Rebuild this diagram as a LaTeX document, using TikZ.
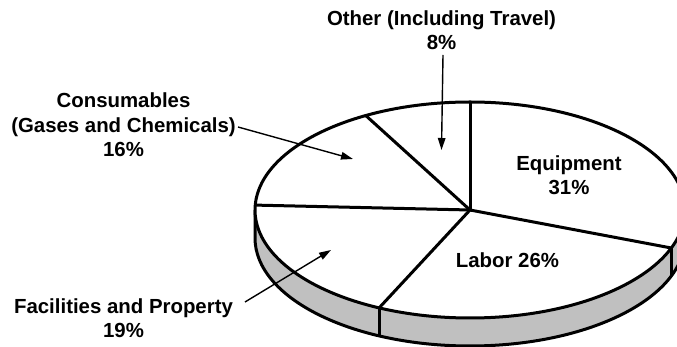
\documentclass[tikz,border=0pt]{standalone}
\usepackage{fontspec}
\setmainfont{Liberation Sans}
\usetikzlibrary{arrows.meta}
\definecolor{sidegray}{RGB}{192,192,192}
\begin{document}
\begin{tikzpicture}[x=1pt,y=1pt,
  lbl/.style={font=\fontsize{20.4}{24.5}\selectfont\bfseries, align=center, inner sep=0pt, anchor=base},
  edge/.style={line width=3pt, line join=round},
  pointer/.style={line width=1.4pt, -{Triangle[length=12pt,width=7.5pt]}}]
\useasboundingbox (0,0) rectangle (677,347);
\clip (0,0) rectangle (677,347);
\def\rx{215}\def\ry{108}\def\dep{28}
\coordinate (C) at (470,137);
\coordinate (L) at (255,137);
\foreach \n/\t in {a/90,b/-20.6,c/-115,d/177.4,e/119}
  \coordinate (p\n) at ({470+\rx*cos(\t)},{137+\ry*sin(\t)});
% side
\fill[sidegray] (L) arc[start angle=180,end angle=360,x radius=\rx,y radius=\ry]
  -- ++(0,-\dep) arc[start angle=360,end angle=180,x radius=\rx,y radius=\ry] -- cycle;
\draw[edge] (L) -- ++(0,-\dep) arc[start angle=180,end angle=360,x radius=\rx,y radius=\ry] -- ++(0,\dep);
\draw[edge] (pb) -- ++(0,-\dep);
\draw[edge] (pc) -- ++(0,-\dep);
% top
\draw[edge, fill=white] (C) ellipse[x radius=\rx,y radius=\ry];
\foreach \n in {a,b,c,d,e} \draw[edge] (C) -- (p\n);
% labels (base anchor = baseline of last line)
\node[lbl] (other) at (441.5,297) {Other (Including Travel)\\8\%};
\node[lbl] (cons) at (123.5,190) {Consumables\\(Gases and Chemicals)\\16\%};
\node[lbl] (fac) at (123.5,9) {Facilities and Property\\19\%};
\node[lbl] (equip) at (569,152) {Equipment\\31\%};
\node[lbl] (labor) at (507.5,79) {Labor 26\%};
% pointers
\coordinate (o1) at (443,292); \coordinate (o2) at (441.5,197);
\coordinate (c1) at (238,220); \coordinate (c2) at (353,188);
\coordinate (f1) at (245,45);  \coordinate (f2) at (331,97);
\draw[pointer] (o1) -- (o2);
\draw[pointer] (c1) -- (c2);
\draw[pointer] (f1) -- (f2);
\end{tikzpicture}
\end{document}
